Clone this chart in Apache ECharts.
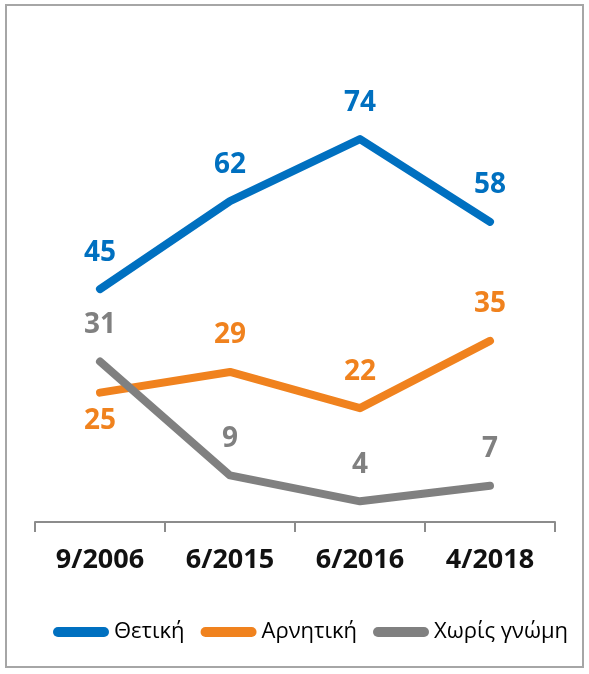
<!DOCTYPE html>
<html>
<head>
<meta charset="utf-8">
<script src="https://cdn.jsdelivr.net/npm/echarts@6/dist/echarts.min.js"></script>
<style>
  html, body { margin: 0; padding: 0; background: #fff; }
  #chart { width: 589px; height: 674px; }
</style>
</head>
<body>
<div id="chart"></div>
<script>
// survey waves
const categories = ['9/2006', '6/2015', '6/2016', '4/2018']

const positive = [45, 62, 74, 58]
const negative = [25, 29, 22, 35]
const noOpinion = [31, 9, 4, 7]

const seriesNames = ['Θετική', 'Αρνητική', 'Χωρίς γνώμη']
const colors = ['#0070C0', '#F0821E', '#808080']

const font = '"Open Sans", "Noto Sans", sans-serif'
// pill shaped legend marker
const pill = 'path://M5,0 H51 A5,5 0 0 1 51,10 H5 A5,5 0 0 1 5,0 Z'

function lineSeries(name, data, color, labelPos) {
  return {
    name,
    type: 'line',
    data: data.map((v, i) => ({
      value: v,
      label: { position: labelPos[i], distance: labelPos[i] === 'bottom' ? 14 : 22 },
    })),
    symbol: 'circle',
    symbolSize: 1,
    itemStyle: { color },
    lineStyle: { color, width: 8, cap: 'round', join: 'round' },
    label: {
      show: true,
      color,
      fontFamily: font,
      fontWeight: 'bold',
      fontSize: 28,
    },
    emphasis: { disabled: true },
  }
}

const chart = echarts.init(document.getElementById('chart'))

chart.setOption({
  animation: false,
  backgroundColor: '#fff',
  graphic: [{
    type: 'rect',
    shape: { x: 6, y: 5, width: 577, height: 662 },
    style: { fill: 'none', stroke: '#a6a6a6', lineWidth: 2 },
  }],
  grid: { left: 35, right: 34, top: 108, bottom: 152 },
  legend: {
    left: 48,
    top: 616,
    icon: pill,
    itemWidth: 56,
    itemHeight: 11,
    itemGap: 16,
    textStyle: { fontFamily: font, fontSize: 22, color: '#000' },
    data: seriesNames,
  },
  xAxis: {
    type: 'category',
    data: categories,
    boundaryGap: true,
    axisLine: { lineStyle: { color: '#8c8c8c', width: 2 } },
    axisTick: { show: true, length: 10, lineStyle: { color: '#8c8c8c', width: 2 } },
    axisLabel: {
      margin: 25,
      color: '#111',
      fontFamily: font,
      fontWeight: 'bold',
      fontSize: 27,
    },
  },
  yAxis: {
    type: 'value',
    min: 0,
    max: 80,
    show: false,
  },
  series: [
    lineSeries(seriesNames[0], positive, colors[0], ['top', 'top', 'top', 'top']),
    lineSeries(seriesNames[1], negative, colors[1], ['bottom', 'top', 'top', 'top']),
    lineSeries(seriesNames[2], noOpinion, colors[2], ['top', 'top', 'top', 'top']),
  ],
})
</script>
</body>
</html>
